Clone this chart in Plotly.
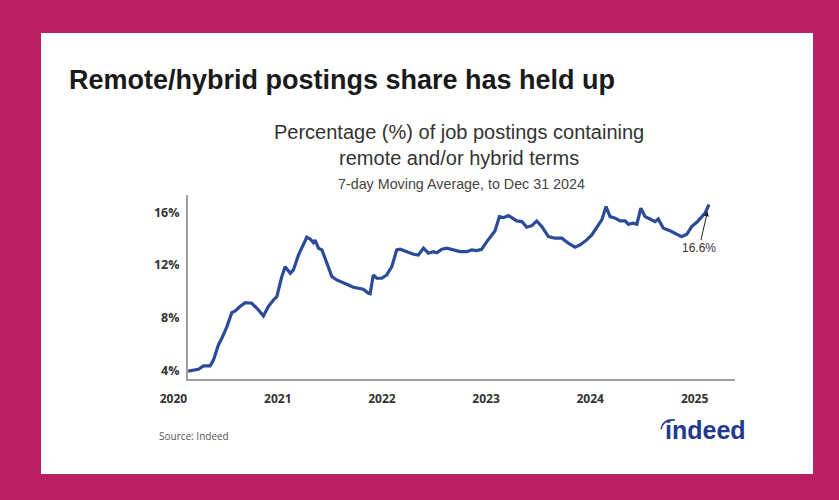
import plotly.graph_objects as go

# Share of job postings mentioning remote/hybrid work (%), 7-day moving average
dates = [
    "2020-01-01", "2020-02-06", "2020-02-24", "2020-03-18", "2020-03-30", "2020-04-16",
    "2020-04-28", "2020-05-16", "2020-06-02", "2020-06-14", "2020-07-01", "2020-07-19",
    "2020-08-11", "2020-08-29", "2020-09-21", "2020-10-08", "2020-10-26", "2020-11-07",
    "2020-11-24", "2020-12-06", "2020-12-24", "2021-01-04", "2021-01-22", "2021-02-08",
    "2021-02-20", "2021-03-04", "2021-03-15", "2021-03-21", "2021-04-02", "2021-04-14",
    "2021-05-01", "2021-05-19", "2021-06-05", "2021-06-28", "2021-07-16", "2021-08-02",
    "2021-08-20", "2021-09-06", "2021-09-24", "2021-09-30", "2021-10-11", "2021-10-23",
    "2021-11-10", "2021-11-27", "2021-12-15", "2022-01-01", "2022-01-13", "2022-02-06",
    "2022-03-01", "2022-03-18", "2022-04-05", "2022-04-22", "2022-05-10", "2022-05-22",
    "2022-06-08", "2022-06-26", "2022-07-19", "2022-08-11", "2022-09-04", "2022-09-21",
    "2022-10-09", "2022-10-26", "2022-11-13", "2022-11-30", "2022-12-12", "2022-12-27",
    "2023-01-10", "2023-01-28", "2023-02-09", "2023-02-26", "2023-03-16", "2023-04-02",
    "2023-04-20", "2023-05-07", "2023-05-25", "2023-06-17", "2023-07-10", "2023-08-03",
    "2023-08-26", "2023-09-18", "2023-10-06", "2023-10-29", "2023-11-16", "2023-12-03",
    "2023-12-21", "2024-01-05", "2024-01-19", "2024-02-06", "2024-02-23", "2024-03-12",
    "2024-03-23", "2024-04-10", "2024-04-22", "2024-05-06", "2024-05-21", "2024-06-07",
    "2024-06-25", "2024-07-06", "2024-07-24", "2024-08-16", "2024-09-09", "2024-09-26",
    "2024-10-14", "2024-10-31", "2024-11-18", "2024-12-05", "2024-12-17", "2024-12-31",
]
share = [
    3.95, 4.09, 4.34, 4.34, 4.80, 5.94,
    6.44, 7.33, 8.39, 8.52, 8.85, 9.15,
    9.10, 8.72, 8.14, 8.85, 9.35, 9.60,
    11.10, 11.88, 11.38, 11.63, 12.77, 13.53,
    14.11, 13.98, 13.70, 13.90, 13.28, 13.15,
    12.14, 11.12, 10.87, 10.62, 10.49, 10.32,
    10.24, 10.16, 9.86, 9.82, 11.25, 11.00,
    11.00, 11.25, 11.88, 13.15, 13.20, 13.02,
    12.82, 12.77, 13.28, 12.90, 13.02, 12.94,
    13.20, 13.28, 13.15, 13.02, 13.02, 13.15,
    13.10, 13.20, 13.78, 14.29, 14.60, 15.68,
    15.60, 15.76, 15.60, 15.35, 15.30, 14.87,
    14.99, 15.35, 14.92, 14.16, 14.04, 14.04,
    13.66, 13.35, 13.53, 13.91, 14.29, 14.80,
    15.43, 16.44, 15.68, 15.56, 15.35, 15.35,
    15.10, 15.18, 15.10, 16.32, 15.68, 15.50,
    15.30, 15.50, 14.80, 14.60, 14.34, 14.16,
    14.34, 14.92, 15.25, 15.68, 15.94, 16.60,
]
year_ticks = ["2020-01-01", "2021-01-01", "2022-01-01", "2023-01-01", "2024-01-01", "2025-01-01"]
year_labels = ["2020", "2021", "2022", "2023", "2024", "2025"]
pct_ticks = [4, 8, 12, 16]
pct_labels = [f"{v}%" for v in pct_ticks]

W, H = 839, 500
L, R, T, B = 188, 735, 195, 379   # plot area in pixels


def fx(px):
    return (px - L) / (R - L)


def fy(py):
    return (B - py) / (B - T)


MAGENTA = "#B91F63"
LINE = "#2B4A9A"
AXIS = "#A0A0A0"
TEXT = "#333333"
LOGO = "#213A8F"

fig = go.Figure()
fig.add_trace(go.Scatter(
    x=dates, y=share, mode="lines",
    line=dict(color=LINE, width=3.2),
    hoverinfo="x+y", showlegend=False,
))

fig.update_layout(
    width=W, height=H,
    margin=dict(l=L, r=W - R, t=T, b=H - B, pad=0),
    paper_bgcolor=MAGENTA,
    plot_bgcolor="white",
    font=dict(family="Liberation Sans, Arial, sans-serif", color=TEXT),
    xaxis=dict(
        type="date",
        range=["2019-12-31 12:00", "2025-04-01"],
        tickvals=year_ticks, ticktext=year_labels,
        ticklabelposition="outside left",
        showgrid=False, zeroline=False,
        showline=True, linecolor=AXIS, linewidth=2,
        ticks="", ticklen=0,
        tickfont=dict(family="Open Sans, sans-serif", size=12, color=TEXT, weight="bold"),
        ticklabelstandoff=8,
    ),
    yaxis=dict(
        range=[3.35, 17.32],
        tickmode="array", tickvals=pct_ticks, ticktext=pct_labels,
        showgrid=False, zeroline=False,
        showline=True, linecolor=AXIS, linewidth=2,
        ticks="",
        tickfont=dict(family="Open Sans, sans-serif", size=12.5, color=TEXT, weight="bold"),
        ticklabelstandoff=4,
    ),
)

# white card on the magenta frame
fig.add_shape(type="rect", xref="paper", yref="paper",
              x0=fx(41), x1=fx(813), y0=fy(474), y1=fy(33),
              fillcolor="white", line=dict(width=0), layer="below")

annotations = [
    dict(text="<b>Remote/hybrid postings share has held up</b>",
         x=fx(67), y=fy(80), xanchor="left", yanchor="middle",
         font=dict(size=27, color="#1a1a1a", family="Liberation Sans, Arial, sans-serif")),
    dict(text="Percentage (%) of job postings containing<br>remote and/or hybrid terms",
         x=fx(459), y=fy(145), xanchor="center", yanchor="middle",
         font=dict(size=20, color=TEXT)),
    dict(text="7-day Moving Average, to Dec 31 2024",
         x=fx(461), y=fy(184), xanchor="center", yanchor="middle",
         font=dict(size=14.3, color="#444444")),
    dict(text="Source: Indeed",
         x=fx(157), y=fy(436), xanchor="left", yanchor="middle",
         font=dict(size=10, color="#555555", family="Open Sans, sans-serif")),
    dict(text="<b>indeed</b>",
         x=fx(705), y=fy(430), xanchor="center", yanchor="middle",
         font=dict(size=25, color=LOGO, family="Liberation Sans, Arial, sans-serif")),
]
for a in annotations:
    fig.add_annotation(xref="paper", yref="paper", showarrow=False, **a)

# swoosh over the logo's "i"
fig.add_shape(type="path", xref="paper", yref="paper",
              path=f"M {fx(661)},{fy(429)} Q {fx(663)},{fy(419)} {fx(675)},{fy(420)}",
              line=dict(color=LOGO, width=1.6))

# callout for the latest value
fig.add_annotation(
    x=dates[-1], y=share[-1], xref="x", yref="y",
    text=f"{share[-1]:.1f}%",
    showarrow=True, ax=-10, ay=44,
    arrowhead=2, arrowsize=1, arrowwidth=1, arrowcolor="#222222", standoff=7,
    font=dict(size=12, color=TEXT),
)

fig.write_html("out.html")
